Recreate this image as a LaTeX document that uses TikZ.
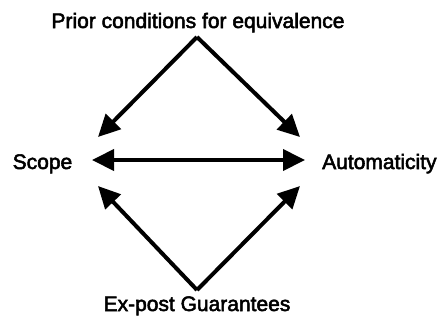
\documentclass[tikz,border=0pt]{standalone}
\usepackage{fontspec}
\setmainfont{Liberation Sans}[FakeBold=2.5]
\usetikzlibrary{arrows.meta}
\begin{document}
\begin{tikzpicture}[x=1bp,y=-1bp,
  lbl/.style={inner sep=0pt,font=\fontsize{21bp}{26bp}\selectfont},
  conn/.style={line width=4bp,-{Triangle[length=22bp,width=21bp]}},
  both/.style={line width=4bp,{Triangle[length=22bp,width=21bp]}-{Triangle[length=22bp,width=21bp]}}]
\useasboundingbox (0,0) rectangle (441,321);
\node[lbl,anchor=base] (prior) at (198,28) {Prior conditions for equivalence};
\node[lbl,anchor=base west] (scope) at (12.5,169) {Scope};
\node[lbl,anchor=base west] (auto) at (322,169) {Automaticity};
\node[lbl,anchor=base] (expost) at (197,311) {Ex-post Guarantees};
\coordinate (tA) at (197,37);
\coordinate (tL) at (98,137);
\coordinate (tR) at (300,137);
\coordinate (hL) at (92,160);
\coordinate (hR) at (305,160);
\coordinate (bA) at (197,290);
\coordinate (bL) at (98,186);
\coordinate (bR) at (300,186);
\draw[conn] (tA) -- (tL);
\draw[conn] (tA) -- (tR);
\draw[both] (hL) -- (hR);
\draw[conn] (bA) -- (bL);
\draw[conn] (bA) -- (bR);
\end{tikzpicture}
\end{document}
